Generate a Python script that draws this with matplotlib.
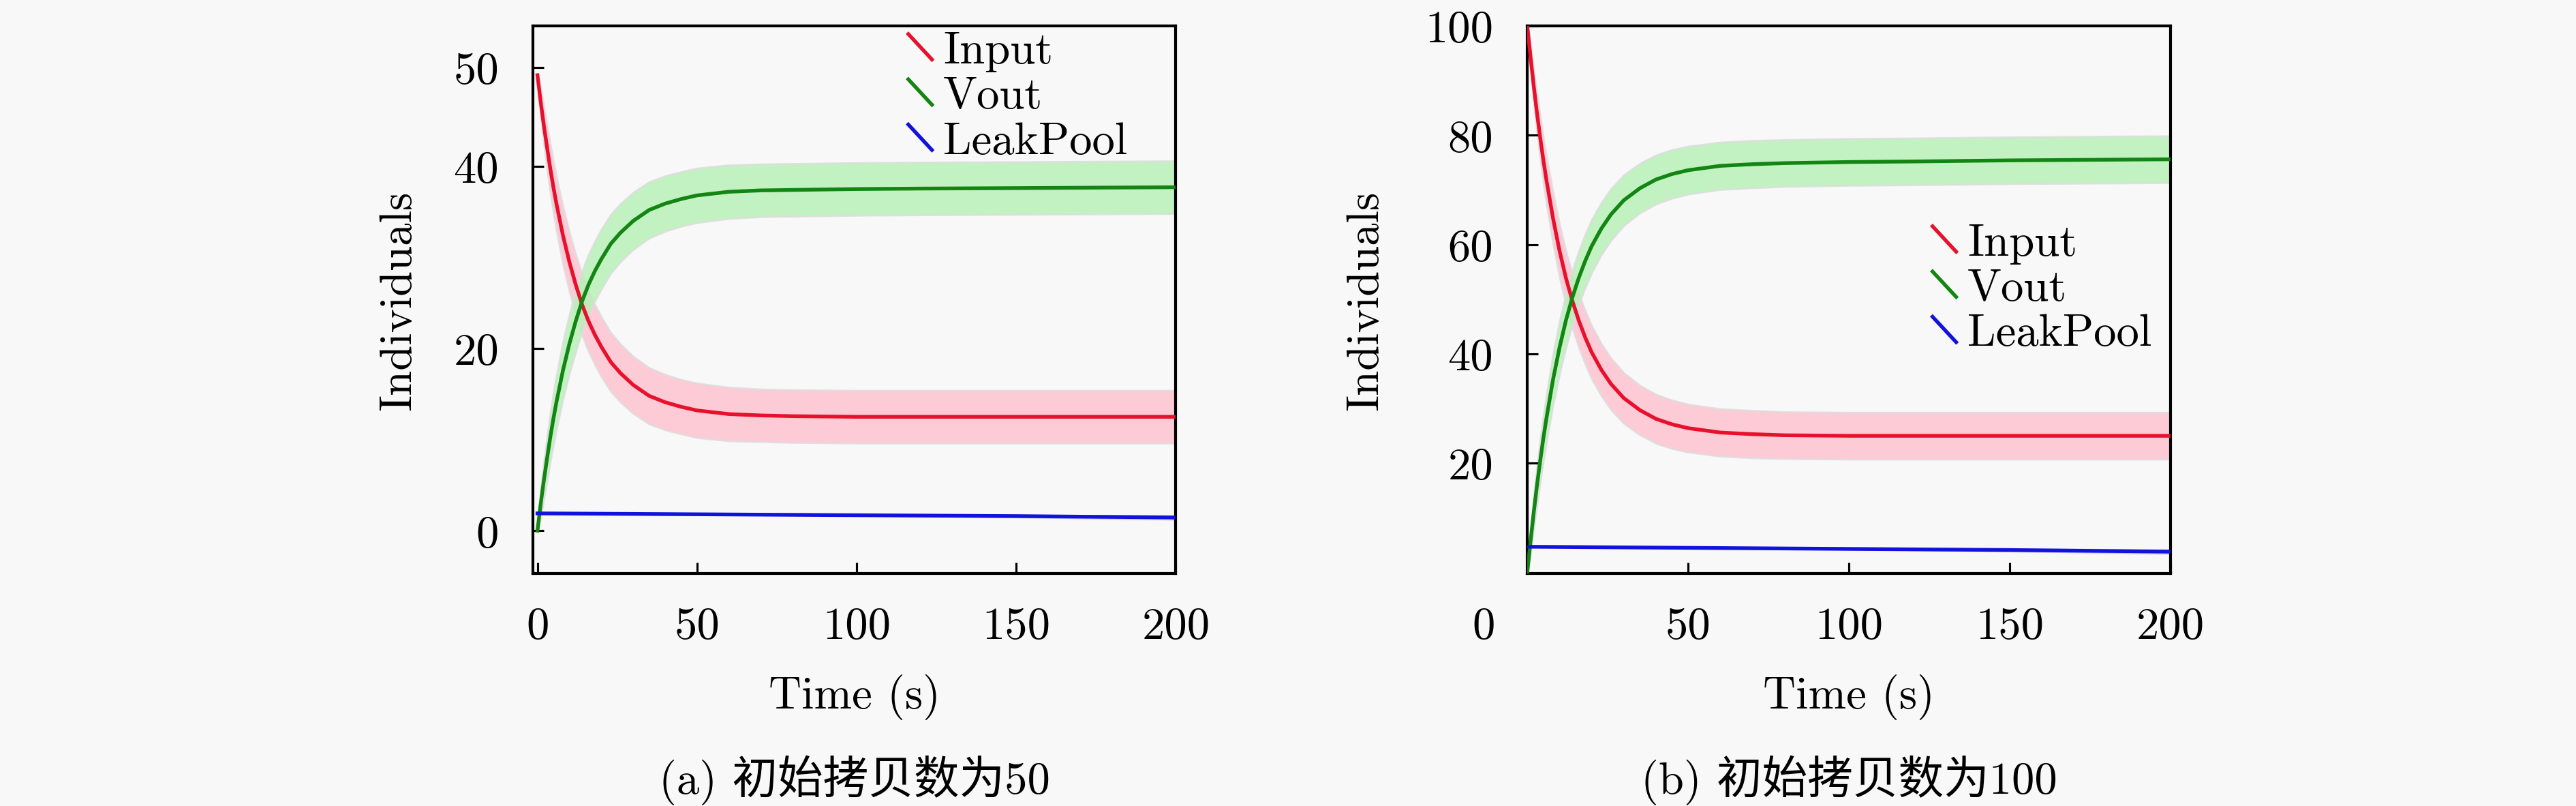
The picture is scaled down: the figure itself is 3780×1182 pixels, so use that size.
import matplotlib
matplotlib.use("Agg")
import matplotlib.pyplot as plt
from matplotlib.legend_handler import HandlerBase
from matplotlib.lines import Line2D
from matplotlib.transforms import ScaledTranslation

plt.rcParams['font.family'] = ['cmr10', 'Noto Sans CJK SC']
plt.rcParams['mathtext.fontset'] = 'cm'
plt.rcParams['axes.formatter.use_mathtext'] = True
plt.rcParams['font.size'] = 16

# time points
t = [0, 1, 2, 3, 4, 5, 6, 8, 10, 12, 14, 16, 18, 20, 23, 26, 30, 35, 40, 45,
     50, 60, 70, 80, 100, 120, 150, 200]
t_leak = [0, 50, 100, 150, 200]

# (a) initial copy number 50
input_a = [50.0, 47.1, 44.5, 42.1, 39.8, 37.7, 35.8, 32.4, 29.5, 27.0, 24.8, 23.0,
           21.5, 20.2, 18.5, 17.3, 16.0, 14.8, 14.1, 13.6, 13.2, 12.8, 12.65, 12.57,
           12.5, 12.5, 12.5, 12.5]
vout_a = [0.0, 2.9, 5.5, 7.9, 10.2, 12.3, 14.2, 17.6, 20.5, 23.0, 25.2, 27.0, 28.5,
          29.8, 31.5, 32.7, 34.0, 35.2, 35.9, 36.4, 36.8, 37.2, 37.35, 37.4, 37.5,
          37.55, 37.6, 37.7]
band_a = [0.0, 1.6, 2.1, 2.5, 2.7, 2.9, 3.0, 3.2, 3.3, 3.35, 3.35, 3.35, 3.3, 3.3,
          3.25, 3.2, 3.15, 3.1, 3.05, 3.0, 3.0, 2.95, 2.9, 2.9, 2.9, 2.9, 2.9, 2.9]
leak_a = [1.9, 1.8, 1.7, 1.6, 1.45]
leak_band_a = [0.0, 0.05, 0.1, 0.2, 0.3]

# (b) initial copy number 100
input_b = [100.0, 94.3, 89.0, 84.1, 79.6, 75.4, 71.6, 64.8, 58.9, 53.9, 49.7, 46.1,
           43.0, 40.3, 37.1, 34.5, 31.9, 29.7, 28.1, 27.1, 26.4, 25.6, 25.3, 25.1,
           25.0, 25.0, 25.0, 25.0]
vout_b = [0.0, 5.7, 11.0, 15.9, 20.4, 24.6, 28.4, 35.3, 41.1, 46.1, 50.3, 53.9, 57.0,
          59.7, 62.9, 65.5, 68.1, 70.3, 71.9, 72.9, 73.6, 74.4, 74.7, 74.9, 75.1,
          75.2, 75.4, 75.6]
band_b = [0.0, 2.3, 3.1, 3.6, 4.0, 4.3, 4.5, 4.75, 4.9, 4.95, 5.0, 4.95, 4.9, 4.9,
          4.8, 4.75, 4.65, 4.55, 4.5, 4.45, 4.4, 4.35, 4.35, 4.3, 4.3, 4.3, 4.3, 4.3]
leak_b = [4.7, 4.5, 4.3, 4.1, 3.8]
leak_band_b = [0.0, 0.1, 0.2, 0.35, 0.5]

labels = ['Input', 'Vout', 'LeakPool']
line_colors = ['#e8112d', '#128512', '#1212dd']
band_colors = ['#ffc3d0', '#b9f0b9', '#c0c0ff']
bg = '#f8f8f8'


class DiagHandler(HandlerBase):
    # legend key drawn as a short "\" stroke
    def create_artists(self, legend, orig_handle, xdescent, ydescent,
                       width, height, fontsize, trans):
        x0 = -xdescent
        y0 = -ydescent
        ln = Line2D([x0, x0 + width], [y0 + height * 0.9, y0 + height * 0.1],
                    color=orig_handle.get_color(),
                    lw=orig_handle.get_linewidth(), transform=trans)
        return [ln]


def draw_panel(ax, inp, vout, band, leak, leak_band):
    series = [inp, vout]
    handles = []
    for vals, lc, bc, lab in zip(series, line_colors, band_colors, labels):
        lo = [v - b for v, b in zip(vals, band)]
        hi = [v + b for v, b in zip(vals, band)]
        ax.fill_between(t, lo, hi, color=bc, alpha=0.85, lw=0.6,
                        edgecolor='#dddddd', zorder=1)
        h, = ax.plot(t, vals, color=lc, lw=1.3, label=lab, zorder=3)
        handles.append(h)
    lo = [v - b for v, b in zip(leak, leak_band)]
    hi = [v + b for v, b in zip(leak, leak_band)]
    ax.fill_between(t_leak, lo, hi, color=band_colors[2], alpha=0.85, lw=0, zorder=1)
    h, = ax.plot(t_leak, leak, color=line_colors[2], lw=1.3, label=labels[2], zorder=3)
    handles.append(h)

    ax.set_facecolor(bg)
    for s in ax.spines.values():
        s.set_linewidth(1.0)
    ax.tick_params(direction='in', length=3.8, width=0.75, top=False, right=False)
    ax.tick_params(axis='x', pad=11.5)
    ax.tick_params(axis='y', pad=12)
    ax.set_xticks([0, 50, 100, 150, 200])
    ax.set_xticklabels(['0', '50', '100', '150', '200'])
    ax.set_xlabel('Time (s)', va='center')
    ax.xaxis.set_label_coords(0.5, -0.225)
    ax.set_ylabel('Individuals', va='center')
    return handles


fig = plt.figure(figsize=(12.6, 3.9433), dpi=300, facecolor=bg)
ax1 = fig.add_axes([0.2069, 0.2882, 0.2495, 0.6788])
ax2 = fig.add_axes([0.5929, 0.2882, 0.2497, 0.6788])

h1 = draw_panel(ax1, input_a, vout_a, band_a, leak_a, leak_band_a)
ax1.set_xlim(-1.4, 200)
ax1.set_ylim(-4.7, 55.4)
ax1.set_yticks([0, 20, 40, 50.85])
ax1.set_yticklabels(['0', '20', '40', '50'])
ax1.yaxis.set_label_coords(-0.209, 0.5)
ax1.legend(handles=h1, handler_map={Line2D: DiagHandler()}, loc='upper left',
           bbox_to_anchor=(0.584, 0.991), frameon=False, borderpad=0,
           handlelength=0.52, handletextpad=0.25, labelspacing=0.1,
           borderaxespad=0)
ax1.text(0.5, -0.376, '(a) 初始拷贝数为50', transform=ax1.transAxes,
         ha='center', va='center')

h2 = draw_panel(ax2, input_b, vout_b, band_b, leak_b, leak_band_b)
ax2.set_xlim(0, 200)
ax2.set_ylim(-0.2, 100)
ax2.set_yticks([20, 40, 60, 80, 100])
ax2.set_yticklabels(['20', '40', '60', '80', '100'])
ax2.yaxis.set_label_coords(-0.251, 0.5)
ax2.legend(handles=h2, handler_map={Line2D: DiagHandler()}, loc='upper left',
           bbox_to_anchor=(0.630, 0.640), frameon=False, borderpad=0,
           handlelength=0.52, handletextpad=0.25, labelspacing=0.1,
           borderaxespad=0)
ax2.text(0.5, -0.376, '(b) 初始拷贝数为100', transform=ax2.transAxes,
         ha='center', va='center')

# the "0" under the right panel sits left of the axis
lbl0 = ax2.xaxis.get_major_ticks()[0].label1
lbl0.set_transform(lbl0.get_transform() + ScaledTranslation(-64 / 300, 0, fig.dpi_scale_trans))

fig.savefig('out.png', dpi=300, facecolor=bg)
